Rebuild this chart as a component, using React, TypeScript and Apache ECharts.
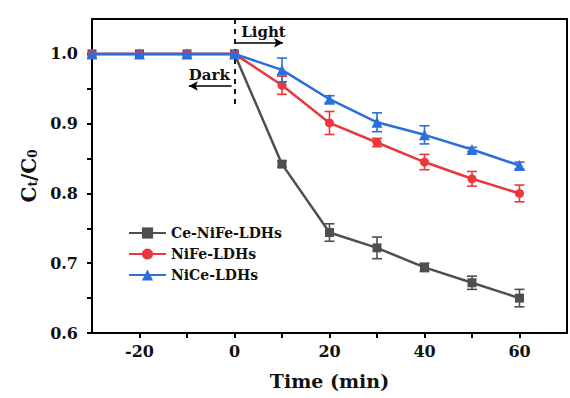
import React, { useEffect, useRef } from "react";
import * as echarts from "echarts";

const times = [-30, -20, -10, 0, 10, 20, 30, 40, 50, 60];
const ceNiFe = [1.0, 1.0, 1.0, 1.0, 0.842, 0.744, 0.722, 0.694, 0.672, 0.650];
const ceNiFeErr = [0, 0, 0, 0, 0.004, 0.0125, 0.0155, 0.006, 0.0095, 0.0125];
const niFe = [1.0, 1.0, 1.0, 1.0, 0.955, 0.901, 0.873, 0.845, 0.821, 0.800];
const niFeErr = [0, 0, 0, 0, 0.013, 0.0165, 0.006, 0.011, 0.0105, 0.012];
const niCe = [1.0, 1.0, 1.0, 1.0, 0.977, 0.935, 0.902, 0.884, 0.863, 0.840];
const niCeErr = [0, 0, 0, 0, 0.017, 0.005, 0.0135, 0.013, 0.003, 0.005];

const seriesNames = ["Ce-NiFe-LDHs", "NiFe-LDHs", "NiCe-LDHs"];
const colors = ["#4f4f4f", "#e8383d", "#2b6fd8"];
const symbols = ["rect", "circle", "triangle"];

const xTicks = [-20, -10, 0, 10, 20, 30, 40, 50, 60];
const xLabels = [-20, 0, 20, 40, 60];
const yTicks = [0.6, 0.65, 0.7, 0.75, 0.8, 0.85, 0.9, 0.95, 1.0];
const yLabels = [0.6, 0.7, 0.8, 0.9, 1.0];

const FONT = "DejaVu Serif";

export default function App() {
  const ref = useRef<HTMLDivElement>(null);
  useEffect(() => {
    if (!ref.current) return;
    const chart = echarts.init(ref.current, null, { renderer: "svg" });
    const values = [ceNiFe, niFe, niCe];
    const errs = [ceNiFeErr, niFeErr, niCeErr];

    const lineSeries = values.map((v, i) => ({
      name: seriesNames[i],
      type: "line",
      data: times.map((t, j) => [t, v[j]]),
      symbol: symbols[i],
      symbolSize: i === 2 ? 11 : 9,
      lineStyle: { color: colors[i], width: 2.5 },
      itemStyle: { color: colors[i] },
      z: 3 + i,
    }));

    const errSeries = values.map((v, i) => ({
      name: seriesNames[i] + "-err",
      type: "custom",
      data: times
        .map((t, j) => [t, v[j] - errs[i][j], v[j] + errs[i][j]])
        .filter((d) => d[2] - d[1] > 0),
      renderItem: (params: any, api: any) => {
        const x = api.value(0);
        const lo = api.coord([x, api.value(1)]);
        const hi = api.coord([x, api.value(2)]);
        const hw = 5;
        const style = { stroke: colors[i], lineWidth: 1.6 };
        return {
          type: "group",
          children: [
            { type: "line", shape: { x1: lo[0], y1: lo[1], x2: hi[0], y2: hi[1] }, style },
            { type: "line", shape: { x1: lo[0] - hw, y1: lo[1], x2: lo[0] + hw, y2: lo[1] }, style },
            { type: "line", shape: { x1: hi[0] - hw, y1: hi[1], x2: hi[0] + hw, y2: hi[1] }, style },
          ],
        };
      },
      z: 3 + i,
      silent: true,
    }));

    const annot = {
      name: "annot",
      type: "line",
      data: [],
      silent: true,
      markLine: {
        silent: true,
        symbol: ["none", "none"],
        label: { show: false },
        animation: false,
        data: [
          [
            { coord: [0, 1.05], lineStyle: { type: [5, 5], color: "#000", width: 1.8 }, symbol: "none" },
            { coord: [0, 0.925], symbol: "none" },
          ],
          [
            { coord: [0, 1.016], lineStyle: { type: "solid", color: "#000", width: 1.5 }, symbol: "none" },
            { coord: [10.2, 1.016], symbol: "arrow", symbolSize: [7, 9] },
          ],
          [
            { coord: [-0.6, 0.954], lineStyle: { type: "solid", color: "#000", width: 1.5 }, symbol: "none" },
            { coord: [-9.6, 0.954], symbol: "arrow", symbolSize: [7, 9] },
          ],
        ],
      },
      markPoint: {
        silent: true,
        symbol: "circle",
        symbolSize: 0,
        label: {
          show: true,
          color: "#111",
          fontFamily: FONT,
          fontWeight: "bold",
          fontSize: 15,
          formatter: (p: any) => p.name,
        },
        data: [
          { name: "Light", coord: [6.1, 1.032] },
          { name: "Dark", coord: [-5.3, 0.97] },
        ],
      },
    };

    chart.setOption({
      animation: false,
      backgroundColor: "#ffffff",
      grid: {
        left: 92,
        right: 3,
        top: 19,
        bottom: 65,
        show: true,
        borderColor: "#000",
        borderWidth: 2,
      },
      legend: {
        data: seriesNames.map((n, i) => ({ name: n, itemStyle: { color: colors[i] } })),
        orient: "vertical",
        left: 116,
        top: 214,
        padding: [12, 12, 12, 12],
        itemWidth: 37,
        itemHeight: 14,
        itemGap: 7,
        backgroundColor: "#ffffff",
        textStyle: { fontFamily: FONT, fontWeight: "bold", fontSize: 14, color: "#111" },
      },
      xAxis: {
        type: "value",
        min: -30,
        max: 70,
        splitLine: { show: false },
        axisLine: { show: true, onZero: false, lineStyle: { color: "#000", width: 2 } },
        axisTick: {
          show: true,
          customValues: xTicks,
          length: 5,
          lineStyle: { color: "#000", width: 2 },
        },
        axisLabel: {
          customValues: xLabels,
          margin: 10,
          color: "#111",
          fontFamily: FONT,
          fontWeight: "bold",
          fontSize: 16,
        },
        name: "Time (min)",
        nameLocation: "middle",
        nameGap: 38,
        nameTextStyle: { fontFamily: FONT, fontWeight: "bold", fontSize: 19, color: "#111" },
      },
      yAxis: {
        type: "value",
        min: 0.6,
        max: 1.05,
        splitLine: { show: false },
        axisLine: { show: true, onZero: false, lineStyle: { color: "#000", width: 2 } },
        axisTick: {
          show: true,
          customValues: yTicks,
          length: 5,
          lineStyle: { color: "#000", width: 2 },
        },
        axisLabel: {
          customValues: yLabels,
          margin: 14,
          color: "#111",
          fontFamily: FONT,
          fontWeight: "bold",
          fontSize: 16,
          formatter: (v: number) => v.toFixed(1),
        },
        name: "{m|C}{s|t}{m|/C}{s|0}",
        nameLocation: "middle",
        nameRotate: 90,
        nameGap: 52,
        nameTextStyle: {
          rich: {
            m: { fontFamily: FONT, fontWeight: "bold", fontSize: 20, color: "#111" },
            s: { fontFamily: FONT, fontWeight: "bold", fontSize: 12, color: "#111", verticalAlign: "bottom", padding: [8, 0, 0, 0] },
          },
        },
      },
      series: [...errSeries, ...lineSeries, annot],
    });
    return () => chart.dispose();
  }, []);
  return (
    <div
      ref={ref}
      style={{ position: "absolute", left: 0, top: 0, width: 570, height: 398 }}
    />
  );
}
